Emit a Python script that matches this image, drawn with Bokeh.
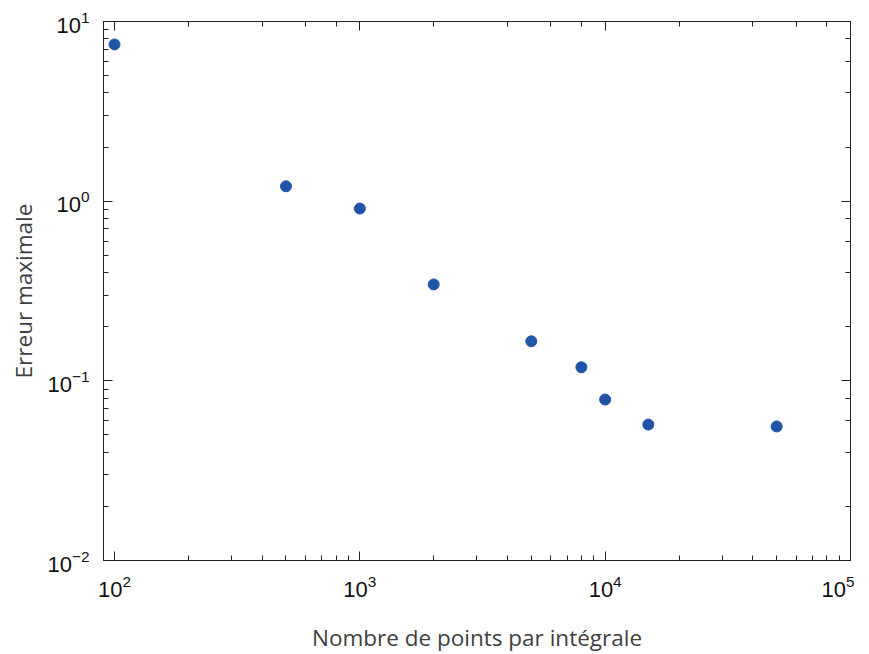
from bokeh.plotting import figure
from bokeh.models import LogAxis, LogTicker, Range1d, Spacer
from bokeh.layouts import row
from bokeh.embed import file_html
from bokeh.resources import INLINE

n_points = [100, 500, 1000, 2000, 5000, 8000, 10000, 15000, 50000]
max_error = [7.45, 1.21, 0.91, 0.344, 0.166, 0.119, 0.0787, 0.0571, 0.0557]

p = figure(frame_width=747, frame_height=539, x_axis_type="log", y_axis_type="log",
           x_range=Range1d(90.2, 100000), y_range=Range1d(0.01, 10),
           output_backend="svg", toolbar_location=None,
           min_border_left=0, min_border_top=21, min_border_right=4, min_border_bottom=78)
p.grid.visible = False
p.background_fill_color = "white"
p.border_fill_color = "white"
p.outline_line_color = "#222222"

p.scatter(n_points, max_error, size=11, color="#2154a8", line_color="#2154a8")

def style(ax, labels=True):
    ax.major_tick_in = 9
    ax.major_tick_out = 0
    ax.minor_tick_in = 5
    ax.minor_tick_out = 0
    ax.axis_line_color = "#222222"
    ax.major_tick_line_color = "#222222"
    ax.minor_tick_line_color = "#222222"
    ax.major_label_text_font = "Liberation Sans"
    ax.major_label_text_font_size = "22px"
    ax.major_label_text_color = "#111111"
    ax.axis_label_text_font = "Open Sans"
    ax.axis_label_text_font_style = "normal"
    ax.axis_label_text_font_size = "22.5px"
    ax.axis_label_text_color = "#404040"
    if not labels:
        ax.major_label_text_font_size = "0px"
        ax.major_label_text_color = None
        ax.major_label_standoff = 0
        ax.axis_label_standoff = 0

style(p.xaxis[0])
style(p.yaxis[0])
p.xaxis[0].axis_label = "Nombre de points par intégrale"
p.yaxis[0].axis_label = "Erreur maximale"
p.xaxis[0].major_label_standoff = 14
p.yaxis[0].major_label_standoff = 14
p.xaxis[0].axis_label_standoff = 22
p.yaxis[0].axis_label_standoff = 5

top = LogAxis(ticker=LogTicker())
right = LogAxis(ticker=LogTicker())
style(top, False)
style(right, False)
p.add_layout(top, "above")
p.add_layout(right, "right")

layout = row(Spacer(width=5, height=10), p)
open("out.html", "w").write(file_html(layout, INLINE))
